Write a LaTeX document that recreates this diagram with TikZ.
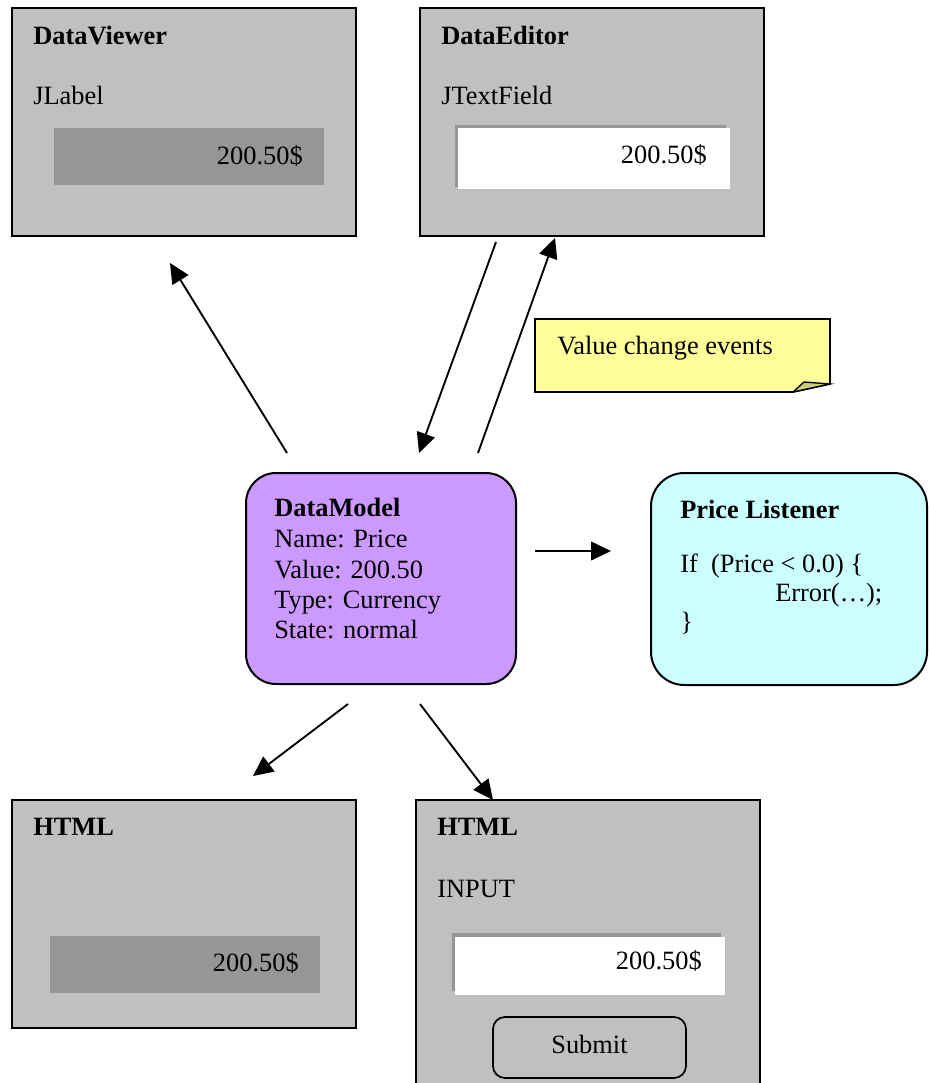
\documentclass[tikz,border=0pt]{standalone}
\usepackage{fontspec}
\setmainfont{Liberation Serif}
\usetikzlibrary{arrows.meta}

\definecolor{panelgray}{HTML}{C0C0C0}
\definecolor{labelgray}{HTML}{969696}
\definecolor{notefill}{HTML}{FFFF99}
\definecolor{notefold}{HTML}{CCCC7A}
\definecolor{modelfill}{HTML}{CC99FF}
\definecolor{listenfill}{HTML}{CCFFFF}

\newcommand{\bodysize}{\fontsize{19.8pt}{22.8pt}\selectfont}

\tikzset{
  txt/.style={inner sep=0pt, font=\bodysize},
  headtxt/.style={inner sep=0pt, font=\bodysize\bfseries},
  boxnode/.style={rectangle, anchor=north west, inner sep=0pt, outer sep=0pt},
  panel/.style={boxnode, draw=black, line width=1.5pt, fill=panelgray},
  flatlabel/.style={boxnode, fill=labelgray},
  fieldshade/.style={boxnode, fill=labelgray},
  fieldwhite/.style={boxnode, fill=white},
  roundbox/.style={boxnode, draw=black, line width=1.5pt},
  flow/.style={line width=1.4pt, -{Triangle[length=15pt,width=14pt]}},
}

\begin{document}
\begin{tikzpicture}[x=0.75pt,y=-0.75pt]
\useasboundingbox (0,0) rectangle (929,1083);
\clip (0,0) rectangle (929,1083);

% ---------- DataViewer (Swing JLabel) ----------
\node[panel, minimum width=258pt, minimum height=171pt] (viewer) at (12,8) {};
\node[headtxt, anchor=base west] (viewertitle) at (33,44) {DataViewer};
\node[txt, anchor=base west] (viewerkind) at (33,104) {JLabel};
\node[flatlabel, minimum width=202.5pt, minimum height=42.75pt] (viewerlabel) at (54,128) {};
\node[txt, anchor=base east] (viewervalue) at (303,164) {200.50\$};

% ---------- DataEditor (Swing JTextField) ----------
\node[panel, minimum width=258pt, minimum height=171pt] (editor) at (420,8) {};
\node[headtxt, anchor=base west] (editortitle) at (441,44) {DataEditor};
\node[txt, anchor=base west] (editorkind) at (441,104) {JTextField};
\node[fieldshade, minimum width=203.25pt, minimum height=46.5pt] (editorshade) at (455,125) {};
\node[fieldwhite, minimum width=204pt, minimum height=45.75pt] (editorfield) at (458,128) {};
\node[txt, anchor=base east] (editorvalue) at (707,163) {200.50\$};

% ---------- note ----------
\draw[line width=1.2pt, fill=notefill]
  (535,319) -- (830,319) -- (830,384) -- (793,392) -- (535,392) -- cycle;
\draw[line width=1pt, fill=notefold] (793,392) -- (804,382) -- (830,384) -- cycle;
\node[txt, anchor=base west] (notetext) at (557,354) {Value change events};

% ---------- DataModel ----------
\node[roundbox, fill=modelfill, rounded corners=22.5pt, minimum width=202.5pt, minimum height=158.25pt] (model) at (246,473) {};
\node[headtxt, anchor=base west] (modeltitle) at (274,516) {DataModel};
\node[txt, anchor=base west] (modelname)  at (274,547) {Name: Price};
\node[txt, anchor=base west] (modelvalue) at (274,578) {Value: 200.50};
\node[txt, anchor=base west] (modeltype)  at (274,608) {Type: Currency};
\node[txt, anchor=base west] (modelstate) at (274,638) {State: normal};

% ---------- Price Listener ----------
\node[roundbox, fill=listenfill, rounded corners=25pt, minimum width=207pt, minimum height=159pt] (listener) at (651,473) {};
\node[headtxt, anchor=base west] (listentitle) at (680,518) {Price Listener};
\node[txt, anchor=base west] (listenif)    at (680,572) {If\ \ (Price < 0.0) \{};
\node[txt, anchor=base west] (listenerror) at (775,601) {Error(…);};
\node[txt, anchor=base west] (listenclose) at (680,630) {\}};

% ---------- HTML read-only view ----------
\node[panel, minimum width=258pt, minimum height=171pt] (htmlview) at (12,800) {};
\node[headtxt, anchor=base west] (htmlviewtitle) at (33,835) {HTML};
\node[flatlabel, minimum width=202.5pt, minimum height=42.75pt] (htmlviewlabel) at (50,936) {};
\node[txt, anchor=base east] (htmlviewvalue) at (299,971) {200.50\$};

% ---------- HTML form ----------
\node[panel, minimum width=258pt, minimum height=225pt] (htmlform) at (416,800) {};
\node[headtxt, anchor=base west] (htmlformtitle) at (437,835) {HTML};
\node[txt, anchor=base west] (htmlformkind) at (437,897) {INPUT};
\node[fieldshade, minimum width=201.75pt, minimum height=43.5pt] (htmlshade) at (452,933) {};
\node[fieldwhite, minimum width=202.5pt, minimum height=43.5pt] (htmlfield) at (455,937) {};
\node[txt, anchor=base east] (htmlformvalue) at (702,969) {200.50\$};
\node[roundbox, line width=1.3pt, rounded corners=9pt, minimum width=144.75pt, minimum height=45.75pt] (submit) at (493,1017) {};
\node[txt, anchor=base] (submittext) at (589.5,1053) {Submit};

% ---------- connector end points ----------
\coordinate (m2v-a) at (287,453);  \coordinate (m2v-b) at (170,263);
\coordinate (e2m-a) at (496,242);  \coordinate (e2m-b) at (419,453);
\coordinate (m2e-a) at (478,453);  \coordinate (m2e-b) at (555,238);
\coordinate (m2l-a) at (535,551);  \coordinate (m2l-b) at (611,551);
\coordinate (m2h-a) at (348,704);  \coordinate (m2h-b) at (253,776);
\coordinate (m2f-a) at (420,704);  \coordinate (m2f-b) at (493,800);

\draw[flow] (m2v-a) -- (m2v-b);
\draw[flow] (e2m-a) -- (e2m-b);
\draw[flow] (m2e-a) -- (m2e-b);
\draw[flow] (m2l-a) -- (m2l-b);
\draw[flow] (m2h-a) -- (m2h-b);
\draw[flow] (m2f-a) -- (m2f-b);
\end{tikzpicture}
\end{document}
